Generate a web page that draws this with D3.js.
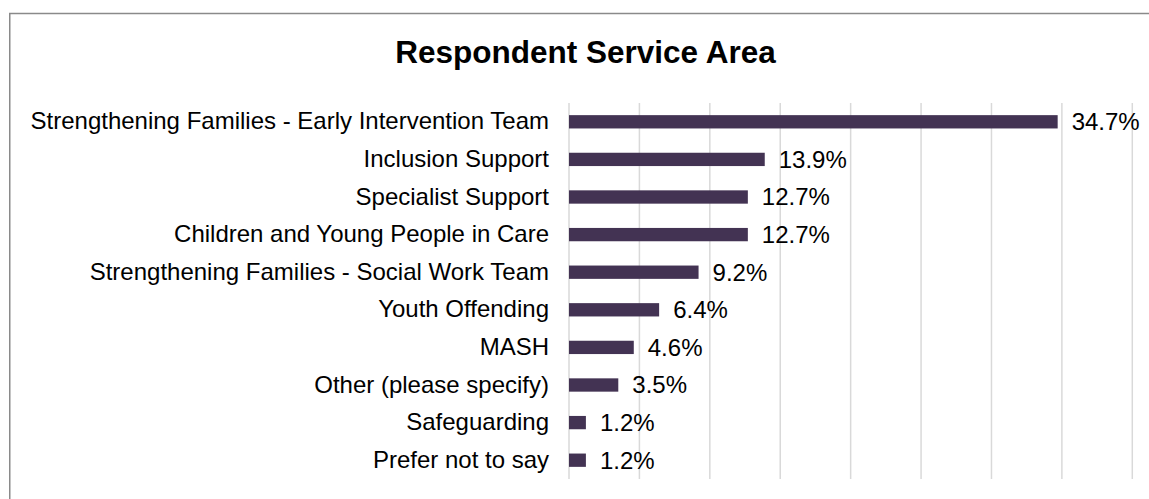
<!DOCTYPE html>
<html>
<head>
<meta charset="utf-8">
<script src="https://cdn.jsdelivr.net/npm/d3@7"></script>
<style>
  html, body { margin: 0; padding: 0; background: #fff; overflow: hidden; }
  svg { display: block; }
  text { font-family: "Liberation Sans", Arial, sans-serif; fill: #000; }
</style>
</head>
<body>
<svg id="chart" width="1149" height="499"></svg>
<script>
// Share of respondents by service area
const categories = [
  "Strengthening Families - Early Intervention Team",
  "Inclusion Support",
  "Specialist Support",
  "Children and Young People in Care",
  "Strengthening Families - Social Work Team",
  "Youth Offending",
  "MASH",
  "Other (please specify)",
  "Safeguarding",
  "Prefer not to say"
];
const values = [34.7, 13.9, 12.7, 12.7, 9.2, 6.4, 4.6, 3.5, 1.2, 1.2];
const gridTicks = [0, 5, 10, 15, 20, 25, 30, 35, 40];
const title = "Respondent Service Area";

const svg = d3.select("#chart");

// chart frame: top and left edges (the rest runs past the visible area)
svg.append("path")
  .attr("d", "M9.75,499 L9.75,13.5 L1149,13.5")
  .attr("fill", "none")
  .attr("stroke", "#8a8a8a")
  .attr("stroke-width", 1.5);

const plot = { left: 569, right: 1132.3, top: 103, bottom: 479 };

const x = d3.scaleLinear().domain([0, 40]).range([plot.left, plot.right]);
const y = d3.scaleBand()
  .domain(categories)
  .range([plot.top, plot.bottom])
  .paddingInner(0.646)
  .paddingOuter(0.323);

// vertical gridlines
svg.append("g")
  .selectAll("line")
  .data(gridTicks)
  .join("line")
  .attr("x1", d => x(d)).attr("x2", d => x(d))
  .attr("y1", plot.top).attr("y2", plot.bottom)
  .attr("stroke", "#d9d9d9")
  .attr("stroke-width", 1.5);

// category axis labels
const yAxis = d3.axisLeft(y).tickSize(0).tickPadding(20);
const gy = svg.append("g")
  .attr("transform", `translate(${plot.left},0)`)
  .call(yAxis);
gy.select(".domain").remove();
gy.selectAll("text")
  .attr("font-size", 24)
  .attr("fill", "#000")
  .style("font-family", '"Liberation Sans", Arial, sans-serif');

// bars
svg.append("g")
  .selectAll("rect")
  .data(values)
  .join("rect")
  .attr("x", x(0))
  .attr("y", (d, i) => y(categories[i]))
  .attr("width", d => x(d) - x(0))
  .attr("height", y.bandwidth())
  .attr("fill", "#433353");

// value labels
svg.append("g")
  .selectAll("text")
  .data(values)
  .join("text")
  .attr("x", d => x(d) + 14)
  .attr("y", (d, i) => y(categories[i]) + y.bandwidth() / 2)
  .attr("dy", "0.35em")
  .attr("font-size", 24)
  .text(d => d.toFixed(1) + "%");

// title
svg.append("text")
  .attr("x", 585.5)
  .attr("y", 63)
  .attr("text-anchor", "middle")
  .attr("font-size", 31.5)
  .attr("font-weight", "bold")
  .text(title);
</script>
</body>
</html>
